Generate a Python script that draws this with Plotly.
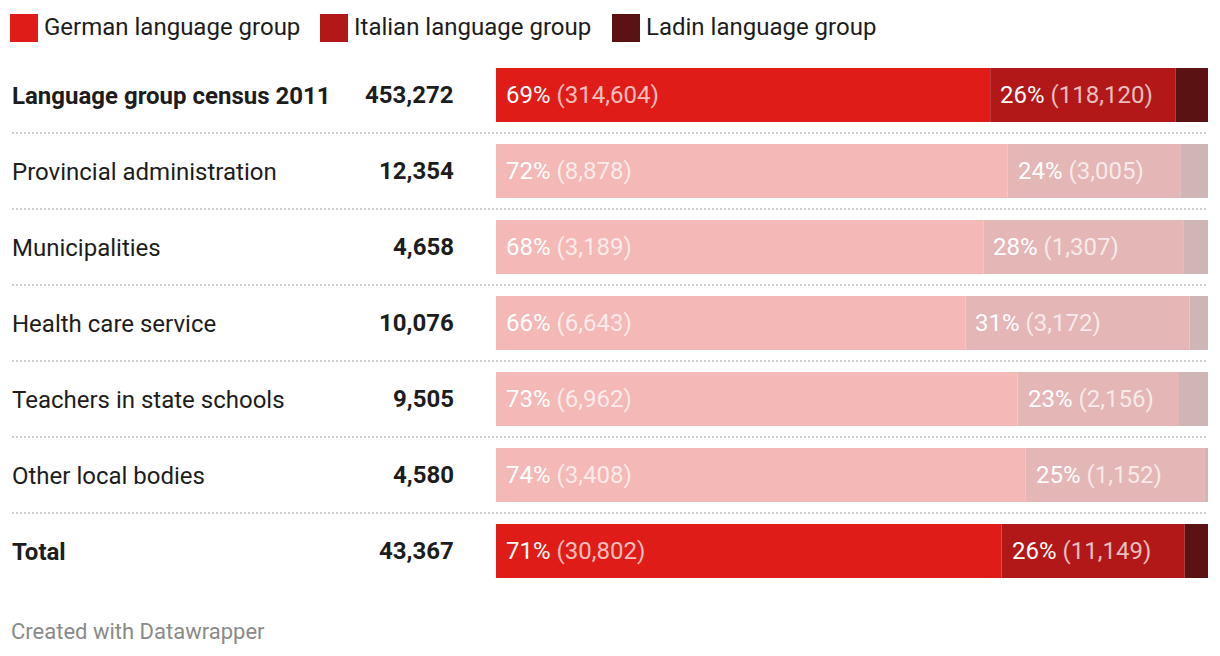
import plotly.graph_objects as go

categories = ["Language group census 2011", "Provincial administration", "Municipalities",
              "Health care service", "Teachers in state schools", "Other local bodies", "Total"]
totals = [453272, 12354, 4658, 10076, 9505, 4580, 43367]
german = [314604, 8878, 3189, 6643, 6962, 3408, 30802]
italian = [118120, 3005, 1307, 3172, 2156, 1152, 11149]
ladin = [t - g - i for t, g, i in zip(totals, german, italian)]
highlight = [True, False, False, False, False, False, True]

groups = ["German language group", "Italian language group", "Ladin language group"]
full_colors = ["#df1c17", "#b21818", "#5a1212"]
faded_colors = ["#f4b8b7", "#e4b6b6", "#cfb5b5"]

W, H = 1220, 656
px = lambda v: v / W
py = lambda v: 1 - v / H
FONT = "Roboto, Arial, sans-serif"

fig = go.Figure()
ys = list(range(len(categories)))
left = [0.0] * len(categories)
annotations = []
for k, series in enumerate([german, italian, ladin]):
    share = [v / t for v, t in zip(series, totals)]
    colors = [full_colors[k] if h else faded_colors[k] for h in highlight]
    fig.add_trace(go.Bar(
        y=ys, x=share, base=left, orientation="h", width=54 / 76,
        marker=dict(color=colors, line=dict(width=0)),
        showlegend=False, hoverinfo="skip",
    ))
    if k < 2:
        for i, (v, s) in enumerate(zip(series, share)):
            annotations.append(dict(
                x=left[i], y=i, xref="x", yref="y", xanchor="left", yanchor="middle",
                xshift=8, showarrow=False,
                text=f"{round(s * 100)}% <span style='color:rgba(255,255,255,0.72)'>({v:,})</span>",
                font=dict(family=FONT, size=24, color="#ffffff"),
            ))
    left = [l + s for l, s in zip(left, share)]

for i, (c, t, h) in enumerate(zip(categories, totals, highlight)):
    lab = f"<b>{c}</b>" if h else c
    annotations.append(dict(x=px(10), y=i, xref="paper", yref="y", xanchor="left",
                            yanchor="middle", showarrow=False, text=lab, yshift=-1,
                            font=dict(family=FONT, size=24, color="#1d1d1d")))
    annotations.append(dict(x=px(456), y=i, xref="paper", yref="y", xanchor="right",
                            yanchor="middle", showarrow=False, text=f"<b>{t:,}</b>",
                            font=dict(family=FONT, size=24, color="#1d1d1d")))

shapes = []
for i in range(len(categories) - 1):
    shapes.append(dict(type="line", xref="paper", yref="y", x0=px(12), x1=px(1208),
                       y0=i + 0.5, y1=i + 0.5,
                       line=dict(color="#d0d0d0", width=2, dash="2px,2px")))

legend_x = [10, 320, 612]
for g, c, lx in zip(groups, full_colors, legend_x):
    shapes.append(dict(type="rect", xref="paper", yref="paper", x0=px(lx), x1=px(lx + 28),
                       y0=py(42), y1=py(14), fillcolor=c, line=dict(width=0)))
    annotations.append(dict(x=px(lx + 32), y=py(27), xref="paper", yref="paper",
                            xanchor="left", yanchor="middle", showarrow=False, text=g,
                            font=dict(family=FONT, size=24, color="#1d1d1d")))

annotations.append(dict(x=px(9), y=py(631), xref="paper", yref="paper", xanchor="left",
                        yanchor="middle", showarrow=False, text="Created with Datawrapper",
                        font=dict(family=FONT, size=22, color="#8a8a8a")))

fig.update_layout(
    width=W, height=H, margin=dict(l=0, r=0, t=0, b=0),
    plot_bgcolor="white", paper_bgcolor="white", barmode="overlay",
    xaxis=dict(domain=[px(496), px(1208)], range=[0, 1], visible=False, fixedrange=True),
    yaxis=dict(domain=[py(589), py(57)], range=[6.5, -0.5], visible=False, fixedrange=True),
    shapes=shapes, annotations=annotations,
)

fig.write_html("out.html", config={"displayModeBar": False},
               post_script="document.body.style.margin='0';")
